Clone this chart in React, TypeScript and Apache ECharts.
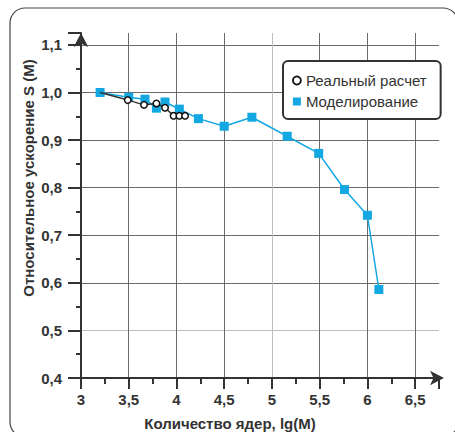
import React, { useEffect, useRef } from "react";
import * as echarts from "echarts";

const realX = [3.2, 3.49, 3.66, 3.79, 3.88, 3.97, 4.03, 4.09];
const realY = [1.0, 0.984, 0.974, 0.977, 0.968, 0.951, 0.951, 0.951];
const modelX = [3.2, 3.5, 3.67, 3.79, 3.88, 4.03, 4.23, 4.5, 4.79, 5.16, 5.49, 5.76, 6.0, 6.12];
const modelY = [1.0, 0.99, 0.986, 0.967, 0.98, 0.965, 0.945, 0.929, 0.948, 0.908, 0.872, 0.796, 0.742, 0.586];
const seriesNames = ["Реальный расчет", "Моделирование"];
const xTitle = "Количество ядер, lg(M)";
const yTitle = "Относительное ускорение S (M)";

const BLUE = "#14a8e2";
const FONT = "'Liberation Sans', Arial, sans-serif";

export default function App() {
  const ref = useRef<HTMLDivElement>(null);
  useEffect(() => {
    const chart = echarts.init(ref.current!, undefined, { renderer: "svg" });
    const D = "#6a6a6a";
    const L = "#bdbdbd";
    const xLines = [D, D, D, D, L, D, D, D];
    const yLines = [D, L, D, D, D, D, D, D];
    chart.setOption({
      animation: false,
      backgroundColor: "#fff",
      textStyle: { fontFamily: FONT },
      grid: { left: 81, top: 33, right: 16, bottom: 54 },
      xAxis: {
        type: "value",
        min: 3,
        max: 6.75,
        interval: 0.5,
        axisLine: {
          show: true,
          onZero: false,
          lineStyle: { color: "#333", width: 2 },
          symbol: ["none", "arrow"],
          symbolSize: [11, 14],
          symbolOffset: [0, 5],
        },
        axisTick: { show: true, length: 11, lineStyle: { color: "#333", width: 2 } },
        minorTick: { show: true, splitNumber: 2, length: 6, lineStyle: { color: "#333", width: 2 } },
        splitLine: { show: true, showMaxLine: false, lineStyle: { color: xLines, width: 1 } },
        axisLabel: {
          margin: 14,
          fontSize: 15,
          fontWeight: "bold",
          color: "#333",
          fontFamily: FONT,
          formatter: (v: number) => String(v).replace(".", ","),
        },
      },
      yAxis: {
        type: "value",
        min: 0.4,
        max: 1.125,
        interval: 0.1,
        axisLine: {
          show: true,
          onZero: false,
          lineStyle: { color: "#333", width: 2 },
          symbol: ["none", "arrow"],
          symbolSize: [11, 14],
          symbolOffset: [0, 0],
        },
        axisTick: { show: true, length: 13, lineStyle: { color: "#333", width: 2 } },
        minorTick: { show: true, splitNumber: 2, length: 5, lineStyle: { color: "#333", width: 2 } },
        splitLine: { show: true, showMaxLine: false, lineStyle: { color: yLines, width: 1 } },
        axisLabel: {
          margin: 19,
          fontSize: 15,
          fontWeight: "bold",
          color: "#333",
          fontFamily: FONT,
          formatter: (v: number) => v.toFixed(1).replace(".", ","),
        },
      },
      legend: {
        orient: "vertical",
        left: 283,
        top: 61,
        padding: [12, 14, 10, 9],
        itemGap: 6,
        itemWidth: 8,
        itemHeight: 8,
        borderColor: "#333",
        borderWidth: 2,
        borderRadius: 5,
        backgroundColor: "#fff",
        textStyle: { fontSize: 15, color: "#333", fontFamily: FONT },
        data: [
          { name: seriesNames[0], icon: "circle", itemStyle: { color: "#fff", borderColor: "#111", borderWidth: 1.8 } },
          { name: seriesNames[1], icon: "rect", itemStyle: { color: BLUE } },
        ],
      },
      graphic: [
        {
          type: "rect",
          shape: { x: 10, y: 8, width: 448, height: 429, r: 15 },
          style: { fill: "none", stroke: "#444", lineWidth: 1.2 },
          z: 0,
        },
        {
          type: "text",
          x: 28,
          y: 178,
          rotation: Math.PI / 2,
          style: {
            text: yTitle,
            font: `bold 15px ${FONT}`,
            fill: "#333",
            align: "center",
            verticalAlign: "middle",
          },
        },
        {
          type: "text",
          x: 230,
          y: 423,
          style: {
            text: xTitle,
            font: `bold 15px ${FONT}`,
            fill: "#333",
            align: "center",
            verticalAlign: "middle",
          },
        },
      ],
      series: [
        {
          name: seriesNames[1],
          type: "line",
          data: modelX.map((x, i) => [x, modelY[i]]),
          symbol: "rect",
          symbolSize: 9,
          lineStyle: { color: BLUE, width: 1.5 },
          itemStyle: { color: BLUE },
          z: 2,
        },
        {
          name: seriesNames[0],
          type: "line",
          data: realX.map((x, i) =>
            i === 0 ? { value: [x, realY[i]], symbol: "none" } : [x, realY[i]]
          ),
          symbol: "circle",
          symbolSize: 6.5,
          showSymbol: true,
          lineStyle: { color: "#333", width: 1.5 },
          itemStyle: { color: "#fff", borderColor: "#111", borderWidth: 1.5 },
          z: 3,
        },
      ],
    });
    return () => chart.dispose();
  }, []);
  return <div ref={ref} style={{ position: "fixed", left: 0, top: 0, width: 455, height: 432 }} />;
}
